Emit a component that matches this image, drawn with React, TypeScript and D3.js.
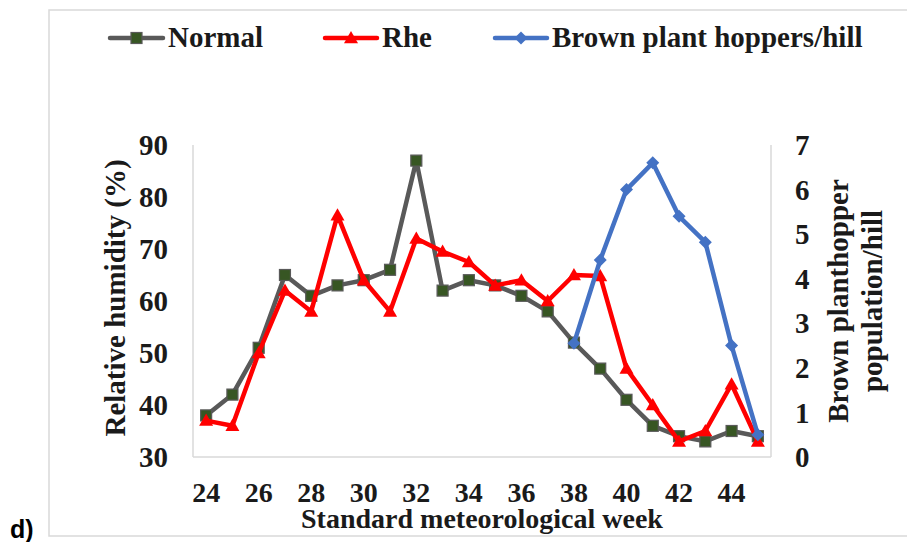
import React from "react";
import * as d3 from "d3";

const weeks = [24, 25, 26, 27, 28, 29, 30, 31, 32, 33, 34, 35, 36, 37, 38, 39, 40, 41, 42, 43, 44, 45];
const normal = [38, 42, 51, 65, 61, 63, 64, 66, 87, 62, 64, 63, 61, 58, 52, 47, 41, 36, 34, 33, 35, 34];
const rhe = [37, 36, 50, 62, 58, 76.5, 64, 58, 72, 69.5, 67.5, 63, 64, 60, 65, 64.8, 47, 40, 33, 35, 44, 33];
const bph: (number | null)[] = [null, null, null, null, null, null, null, null, null, null, null, null, null, null, 2.55, 4.42, 6.0, 6.6, 5.4, 4.82, 2.5, 0.5];
const leftTicks = [30, 40, 50, 60, 70, 80, 90];
const rightTicks = [0, 1, 2, 3, 4, 5, 6, 7];
const xTickLabels = [24, 26, 28, 30, 32, 34, 36, 38, 40, 42, 44];

const FONT = "'Liberation Serif', 'Times New Roman', serif";
const C_NORMAL = "#595959";
const C_NORMAL_FILL = "#375623";
const C_RHE = "#ff0000";
const C_BPH = "#4472c4";

const L = 193, R = 771, T = 145, B = 457;

function Square({ x, y }: { x: number; y: number }) {
  return <rect x={x - 5.5} y={y - 5.5} width={11} height={11} fill={C_NORMAL_FILL} stroke={C_NORMAL} strokeWidth={1.2} />;
}
function Tri({ x, y }: { x: number; y: number }) {
  const s = 7;
  return <path d={`M${x},${y - s} L${x + s},${y + s * 0.75} L${x - s},${y + s * 0.75} Z`} fill={C_RHE} />;
}
function Diamond({ x, y }: { x: number; y: number }) {
  const s = 6.5;
  return <path d={`M${x},${y - s} L${x + s},${y} L${x},${y + s} L${x - s},${y} Z`} fill={C_BPH} />;
}

export default function App() {
  const x = d3.scaleBand<number>().domain(weeks).range([L, R]);
  const cx = (w: number) => (x(w) as number) + x.bandwidth() / 2;
  const yL = d3.scaleLinear().domain([30, 90]).range([B, T]);
  const yR = d3.scaleLinear().domain([0, 7]).range([B, T]);

  const lineL = d3.line<number>().x((_, i) => cx(weeks[i])).y((d) => yL(d));
  const lineR = d3
    .line<number | null>()
    .defined((d) => d !== null)
    .x((_, i) => cx(weeks[i]))
    .y((d) => yR(d as number));

  const legendY = 38;
  const legend = [
    { x1: 110, x2: 163, label: "Normal", color: C_NORMAL, M: Square },
    { x1: 325, x2: 377, label: "Rhe", color: C_RHE, M: Tri },
    { x1: 495, x2: 547, label: "Brown plant hoppers/hill", color: C_BPH, M: Diamond },
  ];

  return (
    <svg width={907} height={542} style={{ position: "absolute", left: 0, top: 0, background: "#fff" }}>
      <rect x={49} y={10} width={900} height={526} fill="#fff" stroke="#d9d9d9" strokeWidth={1.5} />
      {/* legend */}
      {legend.map((l) => (
        <g key={l.label}>
          <line x1={l.x1} x2={l.x2} y1={legendY} y2={legendY} stroke={l.color} strokeWidth={4.5} strokeLinecap="round" />
          <l.M x={(l.x1 + l.x2) / 2} y={legendY} />
          <text x={l.x2 + 5} y={legendY + 9} fontFamily={FONT} fontWeight="bold" fontSize={29} fill="#1a1a1a">
            {l.label}
          </text>
        </g>
      ))}
      {/* axes lines */}
      <line x1={L} x2={L} y1={T} y2={B} stroke="#d9d9d9" strokeWidth={1.5} />
      <line x1={L} x2={R} y1={B} y2={B} stroke="#d9d9d9" strokeWidth={1.5} />
      <line x1={R} x2={R} y1={T} y2={B} stroke="#d9d9d9" strokeWidth={1.5} />
      {/* left ticks */}
      {leftTicks.map((t) => (
        <text key={t} x={168} y={yL(t)} dy="0.35em" textAnchor="end" fontFamily={FONT} fontWeight="bold" fontSize={29} fill="#1a1a1a">
          {t}
        </text>
      ))}
      {rightTicks.map((t) => (
        <text key={t} x={795} y={yR(t)} dy="0.35em" textAnchor="start" fontFamily={FONT} fontWeight="bold" fontSize={29} fill="#1a1a1a">
          {t}
        </text>
      ))}
      {xTickLabels.map((w) => (
        <text key={w} x={cx(w)} y={492} dy="0.35em" textAnchor="middle" fontFamily={FONT} fontWeight="bold" fontSize={28} fill="#1a1a1a">
          {w}
        </text>
      ))}
      {/* axis titles */}
      <text x={482} y={528} textAnchor="middle" fontFamily={FONT} fontWeight="bold" fontSize={28} fill="#1a1a1a">
        Standard meteorological week
      </text>
      <text transform="translate(125,298) rotate(-90)" textAnchor="middle" fontFamily={FONT} fontWeight="bold" fontSize={29} fill="#1a1a1a">
        Relative humidity (%)
      </text>
      <text transform="translate(848,301) rotate(-90)" textAnchor="middle" fontFamily={FONT} fontWeight="bold" fontSize={29} fill="#1a1a1a">
        Brown planthopper
      </text>
      <text transform="translate(882,301) rotate(-90)" textAnchor="middle" fontFamily={FONT} fontWeight="bold" fontSize={29} fill="#1a1a1a">
        population/hill
      </text>
      {/* series */}
      <path d={lineL(normal) || ""} fill="none" stroke={C_NORMAL} strokeWidth={4.5} strokeLinejoin="round" />
      {normal.map((v, i) => (
        <Square key={"n" + i} x={cx(weeks[i])} y={yL(v)} />
      ))}
      <path d={lineL(rhe) || ""} fill="none" stroke={C_RHE} strokeWidth={4.5} strokeLinejoin="round" />
      {rhe.map((v, i) => (
        <Tri key={"r" + i} x={cx(weeks[i])} y={yL(v)} />
      ))}
      <path d={lineR(bph) || ""} fill="none" stroke={C_BPH} strokeWidth={4.5} strokeLinejoin="round" />
      {bph.map((v, i) => (v === null ? null : <Diamond key={"b" + i} x={cx(weeks[i])} y={yR(v)} />))}
      <text x={10} y={538} fontFamily="'Liberation Sans', Arial, sans-serif" fontWeight="bold" fontSize={25} fill="#000">
        d)
      </text>
    </svg>
  );
}
